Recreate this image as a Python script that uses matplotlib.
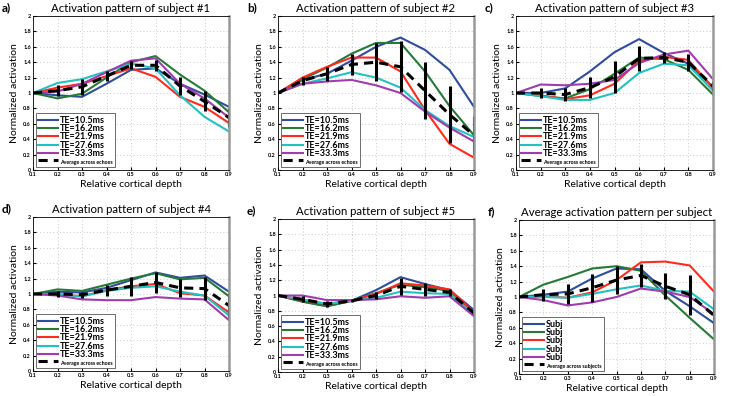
import numpy as np
import matplotlib
matplotlib.use('Agg')
import matplotlib.pyplot as plt

plt.rcParams['font.family'] = ['Lato', 'DejaVu Sans']

depth = [0.1, 0.2, 0.3, 0.4, 0.5, 0.6, 0.7, 0.8, 0.9]
te_labels = ['TE=10.5ms', 'TE=16.2ms', 'TE=21.9ms', 'TE=27.6ms', 'TE=33.3ms']
subj_labels = ['Subj', 'Subj', 'Subj', 'Subj', 'Subj']
colors = ['#2f4ca0', '#267a38', '#ff2a1e', '#22c2c2', '#a03cb0']

# subject 1
s1_te = [
    [1.0, 0.97, 0.95, 1.12, 1.30, 1.32, 1.12, 0.98, 0.82],
    [1.0, 0.93, 0.99, 1.20, 1.40, 1.48, 1.24, 1.03, 0.75],
    [1.0, 1.07, 1.12, 1.22, 1.32, 1.21, 0.95, 0.82, 0.61],
    [1.0, 1.13, 1.18, 1.28, 1.38, 1.32, 0.97, 0.69, 0.50],
    [1.0, 1.02, 1.12, 1.27, 1.42, 1.45, 1.12, 0.93, 0.68],
]
s1_avg = [1.0, 1.03, 1.08, 1.22, 1.36, 1.36, 1.09, 0.89, 0.68]
s1_err = [0.0, 0.07, 0.10, 0.07, 0.05, 0.07, 0.12, 0.13, 0.12]

# subject 2
s2_te = [
    [1.0, 1.17, 1.25, 1.42, 1.60, 1.72, 1.56, 1.30, 0.82],
    [1.0, 1.18, 1.33, 1.51, 1.65, 1.65, 1.28, 0.83, 0.45],
    [1.0, 1.20, 1.34, 1.46, 1.46, 1.28, 0.78, 0.34, 0.16],
    [1.0, 1.12, 1.19, 1.27, 1.20, 1.07, 0.78, 0.57, 0.43],
    [1.0, 1.12, 1.15, 1.17, 1.10, 1.00, 0.76, 0.55, 0.37],
]
s2_avg = [1.0, 1.16, 1.25, 1.37, 1.40, 1.34, 1.03, 0.72, 0.45]
s2_err = [0.0, 0.05, 0.09, 0.14, 0.25, 0.33, 0.37, 0.37, 0.25]

# subject 3
s3_te = [
    [1.0, 1.00, 1.06, 1.28, 1.53, 1.70, 1.52, 1.38, 1.08],
    [1.0, 0.96, 0.93, 1.05, 1.25, 1.46, 1.44, 1.30, 0.98],
    [1.0, 0.97, 0.92, 0.97, 1.12, 1.42, 1.47, 1.43, 1.06],
    [1.0, 0.96, 0.91, 0.91, 1.00, 1.26, 1.38, 1.36, 1.03],
    [1.0, 1.11, 1.10, 1.12, 1.17, 1.39, 1.50, 1.55, 1.18],
]
s3_avg = [1.0, 1.00, 0.98, 1.07, 1.21, 1.45, 1.46, 1.40, 1.09]
s3_err = [0.0, 0.07, 0.08, 0.14, 0.21, 0.16, 0.07, 0.11, 0.07]

# subject 4
s4_te = [
    [1.0, 1.03, 1.02, 1.08, 1.18, 1.28, 1.21, 1.24, 1.03],
    [1.0, 1.06, 1.04, 1.12, 1.20, 1.27, 1.19, 1.21, 0.97],
    [1.0, 1.00, 0.97, 1.05, 1.10, 1.13, 1.01, 0.98, 0.76],
    [1.0, 0.99, 0.97, 1.04, 1.08, 1.10, 1.03, 0.98, 0.72],
    [1.0, 0.98, 0.93, 0.92, 0.92, 0.96, 0.94, 0.93, 0.66],
]
s4_avg = [1.0, 1.00, 0.99, 1.05, 1.10, 1.15, 1.08, 1.07, 0.85]
s4_err = [0.0, 0.04, 0.04, 0.07, 0.12, 0.14, 0.12, 0.15, 0.16]

# subject 5
s5_te = [
    [1.0, 0.92, 0.86, 0.93, 1.07, 1.24, 1.15, 1.07, 0.81],
    [1.0, 0.92, 0.86, 0.93, 1.03, 1.14, 1.11, 1.06, 0.77],
    [1.0, 0.94, 0.89, 0.93, 1.02, 1.16, 1.13, 1.08, 0.78],
    [1.0, 0.95, 0.89, 0.93, 0.97, 1.05, 1.03, 1.02, 0.75],
    [1.0, 1.00, 0.94, 0.94, 0.95, 0.99, 0.97, 0.99, 0.73],
]
s5_avg = [1.0, 0.95, 0.89, 0.93, 1.00, 1.12, 1.08, 1.04, 0.77]
s5_err = [0.0, 0.04, 0.04, 0.02, 0.05, 0.11, 0.08, 0.04, 0.04]

# average per subject
subj_mean = [
    [1.0, 1.03, 1.07, 1.24, 1.37, 1.36, 1.08, 0.88, 0.66],
    [1.0, 1.16, 1.26, 1.37, 1.40, 1.34, 1.02, 0.73, 0.45],
    [1.0, 1.01, 0.99, 1.06, 1.22, 1.45, 1.46, 1.41, 1.07],
    [1.0, 1.00, 0.99, 1.04, 1.10, 1.15, 1.08, 1.07, 0.84],
    [1.0, 0.96, 0.89, 0.93, 1.00, 1.11, 1.07, 1.00, 0.78],
]
all_avg = [1.0, 1.03, 1.04, 1.12, 1.22, 1.28, 1.14, 1.03, 0.76]
all_err = [0.0, 0.08, 0.13, 0.18, 0.18, 0.15, 0.17, 0.26, 0.22]

W, H = 739, 396
fig = plt.figure(figsize=(W / 100, H / 100), dpi=100)

# axes boxes in pixels: left, right, top, bottom
boxes = [
    (33, 229, 16, 170),
    (278, 474, 16, 170),
    (516, 713, 16, 170),
    (33, 229, 217, 371),
    (278, 474, 219, 372),
    (519, 714, 220, 374),
]
panels = [
    ('a)', 'Activation pattern of subject #1', s1_te, s1_avg, s1_err, te_labels, 'Average across echoes'),
    ('b)', 'Activation pattern of subject #2', s2_te, s2_avg, s2_err, te_labels, 'Average across echoes'),
    ('c)', 'Activation pattern of subject #3', s3_te, s3_avg, s3_err, te_labels, 'Average across echoes'),
    ('d)', 'Activation pattern of subject #4', s4_te, s4_avg, s4_err, te_labels, 'Average across echoes'),
    ('e)', 'Activation pattern of subject #5', s5_te, s5_avg, s5_err, te_labels, 'Average across echoes'),
    ('f)', 'Average activation pattern per subject', subj_mean, all_avg, all_err, subj_labels, 'Average across subjects'),
]

for (l, r, t, b), (tag, title, series, avg, err, labels, avg_label) in zip(boxes, panels):
    ax = fig.add_axes([l / W, 1 - b / H, (r - l) / W, (b - t) / H])
    for vals, c, lab in zip(series, colors, labels):
        ax.plot(depth, vals, color=c, lw=1.5, label=lab)
    ax.errorbar(depth[1:], avg[1:], yerr=err[1:], fmt='none', ecolor='black',
                elinewidth=2.2, capsize=0)
    ax.plot(depth, avg, color='black', lw=2.2, ls=(0, (3, 2)), label=avg_label)
    ax.set_xlim(0.1, 0.9)
    ax.set_ylim(0, 2)
    ax.set_xticks(depth)
    ax.set_xticklabels([('%g' % d) for d in depth])
    yt = np.arange(0, 2.01, 0.2)
    ax.set_yticks(yt)
    ax.set_yticklabels([('%g' % round(v, 1)) for v in yt])
    ax.tick_params(labelsize=4, length=2, direction='in', pad=1.5)
    for lab in ax.get_xticklabels() + ax.get_yticklabels():
        lab.set_fontweight('bold')
    ax.grid(True, color='#b8b8b8', ls=(0, (1, 3)), lw=0.6)
    ax.spines['right'].set_color('#999999')
    ax.spines['right'].set_linewidth(1.8)
    for s in ['left', 'top', 'bottom']:
        ax.spines[s].set_linewidth(0.6)
    ax.set_xlabel('Relative cortical depth', fontsize=7.5, labelpad=2)
    ax.set_ylabel('Normalized activation', fontsize=7.5, labelpad=3)
    ax.set_title(title, fontsize=8.2, pad=3)
    fig.text((l - 31) / W, 1 - (t - 8) / H, tag, fontsize=8.5, fontweight='bold',
             va='center', ha='left')
    leg = ax.legend(loc='lower left', fontsize=6.5, frameon=True, fancybox=False,
                    edgecolor='#555555', framealpha=1, handlelength=2.2,
                    labelspacing=-0.08, borderpad=0.3, handletextpad=0.2,
                    borderaxespad=0.3)
    leg.get_frame().set_linewidth(0.6)
    txts = leg.get_texts()
    for tx in txts:
        tx.set_fontweight('bold')
    txts[-1].set_fontsize(3.8)

fig.savefig('out.png', dpi=100)
